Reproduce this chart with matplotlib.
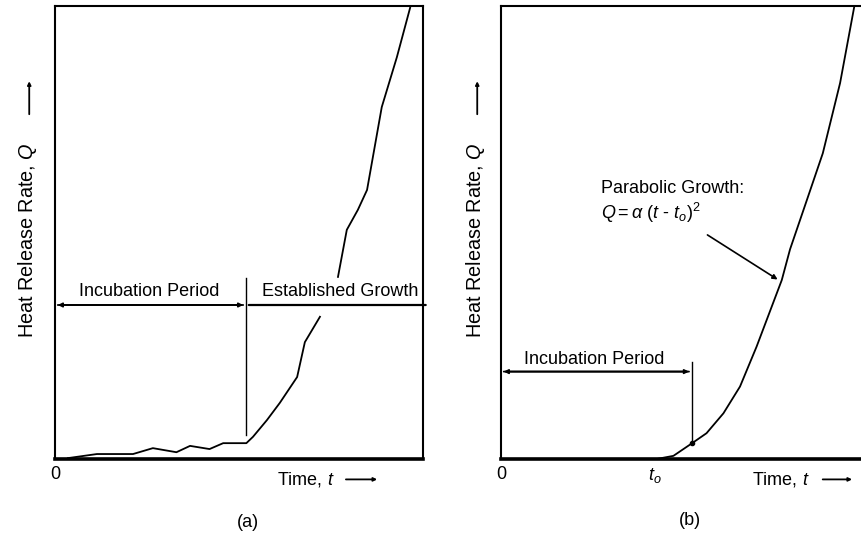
#!/usr/bin/env python3
"""Heat release rate sketch: (a) measured growth, (b) parabolic idealisation."""
import matplotlib
matplotlib.use("Agg")
import matplotlib.pyplot as plt

plt.rcParams["font.family"] = ["Liberation Sans", "DejaVu Sans"]
plt.rcParams["mathtext.fontset"] = "custom"
plt.rcParams["mathtext.rm"] = "Liberation Sans"
plt.rcParams["mathtext.it"] = "Liberation Sans:italic"

# (a) measured curve, axes units 0..100 (two pieces, broken at the label line)
T_A1 = [3.5, 11.4, 21.2, 26.6, 33.0, 36.7, 42.0, 45.7, 52.0, 53.8, 57.6, 61.1, 65.8, 67.9, 72.0]
Q_A1 = [0.2, 1.1, 1.1, 2.4, 1.5, 2.9, 2.2, 3.5, 3.5, 4.9, 8.6, 12.4, 18.1, 25.8, 31.4]
T_A2 = [76.9, 79.3, 82.3, 84.8, 88.8, 92.9, 96.5]
Q_A2 = [40.2, 50.6, 55.0, 59.4, 77.7, 88.7, 99.6]
T_SPLIT_A = 51.9      # end of incubation period
Y_PERIOD_A = 34.0     # level of the period arrows

# (b) parabolic growth curve
T_B = [43.2, 47.9, 53.1, 57.1, 61.8, 66.4, 71.0, 78.0, 80.3, 84.9, 89.4, 94.2, 98.1]
Q_B = [0.0, 0.7, 3.5, 5.7, 10.1, 16.0, 24.8, 39.5, 46.3, 57.0, 67.5, 83.0, 99.7]
T0_B = 42.8
T_SPLIT_B = 53.0
Y_PERIOD_B = 19.3

FS = 13       # annotation text
FS_Y = 14.3   # y-axis label


def base_axes(fig, rect, right_spine=True):
    ax = fig.add_axes(rect)
    ax.set_xlim(0, 100)
    ax.set_ylim(0, 100)
    ax.set_yticks([])
    ax.tick_params(axis="x", length=0, pad=5, labelsize=FS)
    for s in ("left", "top", "right"):
        ax.spines[s].set_linewidth(1.5)
    ax.spines["bottom"].set_linewidth(2.6)
    ax.spines["right"].set_visible(right_spine)
    return ax


def axis_labels(ax, time_x, arrow_x, ylab_x, sub, sub_y):
    ax.text(time_x, -0.045, "Time, $t$", transform=ax.transAxes,
            ha="left", va="center", fontsize=FS)
    ax.annotate("", xy=(arrow_x[1], -0.045), xytext=(arrow_x[0], -0.045),
                xycoords="axes fraction", textcoords="axes fraction",
                arrowprops=dict(arrowstyle="-|>", lw=1.3, color="k",
                                mutation_scale=5), annotation_clip=False)
    ax.text(ylab_x, 0.483, "Heat Release Rate, $Q$", transform=ax.transAxes,
            rotation=90, ha="center", va="center", fontsize=FS_Y)
    ax.annotate("", xy=(ylab_x + 0.006, 0.84), xytext=(ylab_x + 0.006, 0.755),
                xycoords="axes fraction", textcoords="axes fraction",
                arrowprops=dict(arrowstyle="-|>", lw=1.3, color="k",
                                mutation_scale=5), annotation_clip=False)
    ax.text(0.525, sub_y, sub, transform=ax.transAxes,
            ha="center", va="center", fontsize=FS)


fig = plt.figure(figsize=(8.62, 5.33), dpi=100)
arr = dict(arrowstyle="-|>", lw=1.3, color="k", mutation_scale=6)

# ---- (a)
ax = base_axes(fig, [0.0638, 0.1388, 0.4269, 0.8499])
ax.set_xticks([0])
ax.set_xticklabels(["0"])
ax.plot(T_A1, Q_A1, color="k", lw=1.3)
ax.plot(T_A2, Q_A2, color="k", lw=1.3)
ax.plot([T_SPLIT_A, T_SPLIT_A], [5.3, 40.0], color="k", lw=1.0)
ax.annotate("", xy=(0, Y_PERIOD_A), xytext=(T_SPLIT_A, Y_PERIOD_A), arrowprops=arr)
ax.annotate("", xy=(T_SPLIT_A, Y_PERIOD_A), xytext=(0, Y_PERIOD_A), arrowprops=arr)
ax.annotate("", xy=(101.5, Y_PERIOD_A), xytext=(T_SPLIT_A, Y_PERIOD_A),
            arrowprops=dict(arrowstyle="-", lw=1.6, color="k"), annotation_clip=False)
ax.text(25.5, 37.0, "Incubation Period", ha="center", va="center", fontsize=FS)
ax.text(77.5, 37.0, "Established Growth", ha="center", va="center", fontsize=FS)
axis_labels(ax, 0.603, (0.783, 0.883), -0.076, "(a)", -0.141)

# ---- (b)
ax = base_axes(fig, [0.5812, 0.1388, 0.4176, 0.8499], right_spine=False)
ax.set_xticks([0, T0_B])
ax.set_xticklabels(["0", "$t_o$"])
ax.plot(T_B, Q_B, color="k", lw=1.3)
ax.plot([T_SPLIT_B, T_SPLIT_B], [3.5, 21.5], color="k", lw=1.0)
ax.plot([T_SPLIT_B], [3.5], "o", color="k", ms=3)
ax.annotate("", xy=(0, Y_PERIOD_B), xytext=(T_SPLIT_B, Y_PERIOD_B), arrowprops=arr)
ax.annotate("", xy=(T_SPLIT_B, Y_PERIOD_B), xytext=(0, Y_PERIOD_B), arrowprops=arr)
ax.text(25.8, 22.0, "Incubation Period", ha="center", va="center", fontsize=FS)
ax.text(27.7, 59.8, "Parabolic Growth:", ha="left", va="center", fontsize=FS)
ax.text(27.7, 54.3, r"$Q = \alpha\ (t$ - $t_o)^2$", ha="left", va="center", fontsize=FS)
ax.annotate("", xy=(77.5, 39.3), xytext=(56.7, 49.8),
            arrowprops=dict(arrowstyle="-|>", lw=1.2, color="k", mutation_scale=7))
axis_labels(ax, 0.697, (0.886, 0.983), -0.072, "(b)", -0.135)

fig.savefig("out.png", dpi=100)
